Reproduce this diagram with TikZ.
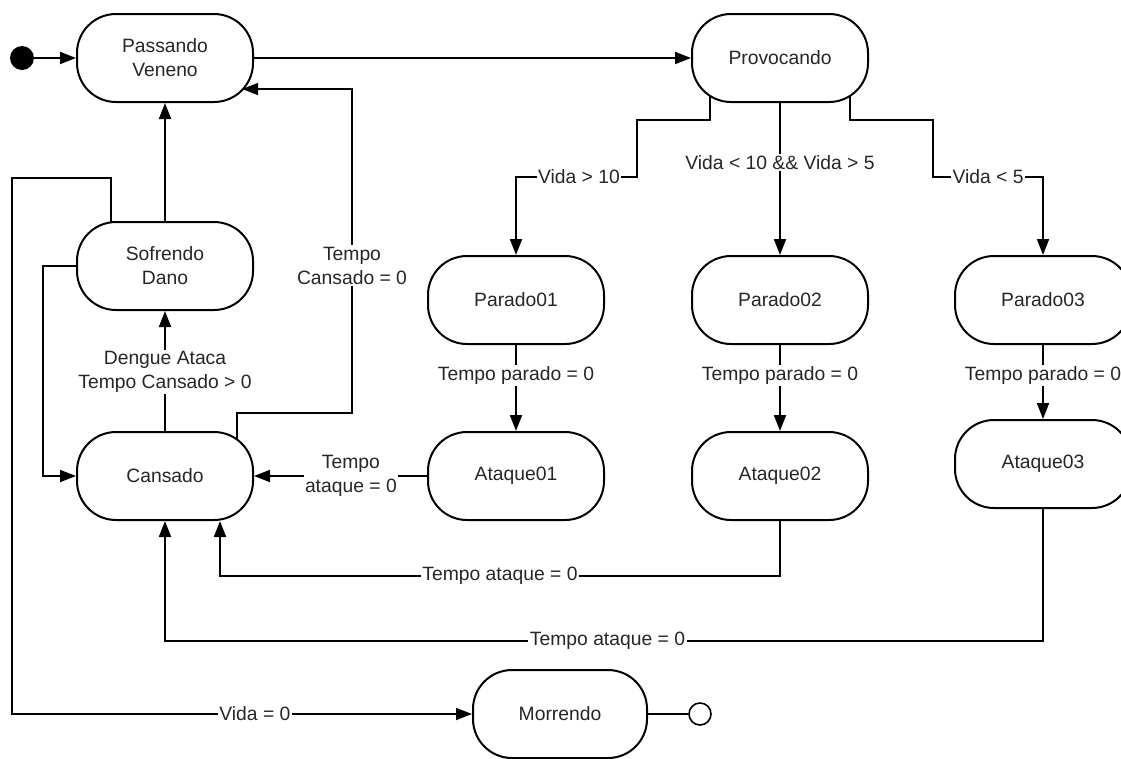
\documentclass[tikz,border=0pt]{standalone}
\usepackage{fontspec}
\setmainfont{Liberation Sans}
\usetikzlibrary{arrows.meta,backgrounds,calc}

\definecolor{ink}{gray}{0.15}

\tikzset{
  statebox/.style={draw, line width=2pt, fill=white, rounded corners=39pt,
    minimum width=176pt, minimum height=88pt, align=center, text=ink,
    font=\fontsize{19.3}{24}\selectfont},
  lbl/.style={fill=white, inner sep=1.5pt, align=center, text=ink,
    font=\fontsize{19.3}{24}\selectfont},
  conn/.style={line width=1.8pt, -{Triangle[length=16pt,width=12pt]}},
  plain/.style={line width=1.8pt},
}

\begin{document}
\begin{tikzpicture}[x=1pt,y=-1pt]
\useasboundingbox (0,0) rectangle (1121,758);
\clip (0,0) rectangle (1121,758);

% states
\node[circle, fill=black, minimum size=24pt, inner sep=0pt] (init) at (22,58) {};
\node[statebox] (pv)   at (165,58)  {Passando\\Veneno};
\node[statebox] (prov) at (780,58)  {Provocando};
\node[statebox] (sof)  at (165,266) {Sofrendo\\Dano};
\node[statebox] (cans) at (165,476) {Cansado};
\node[statebox] (p1)   at (516,300) {Parado01};
\node[statebox] (p2)   at (780,300) {Parado02};
\node[statebox] (p3)   at (1043,300) {Parado03};
\node[statebox] (a1)   at (516,476) {Ataque01};
\node[statebox] (a2)   at (780,476) {Ataque02};
\node[statebox] (a3)   at (1043,464) {Ataque03};
\node[statebox, minimum width=174pt] (mor) at (560,714) {Morrendo};
\node[circle, draw, line width=1.6pt, fill=white, minimum size=22pt, inner sep=0pt] (fin) at (700,714) {};

% transitions
\begin{pgfonlayer}{background}
\draw[conn] (init) -- (pv);
\draw[conn] (pv) -- (prov);
\draw[conn] (sof.north) -- (pv.south);
\draw[conn] (cans.north) -- node[lbl, pos=0.49]{Dengue Ataca\\Tempo Cansado > 0} (sof.south);
\draw[conn] (sof.west) -- ++(-33,0) |- (cans.west);
\draw[conn] ([xshift=72pt]cans.center) -- ++(0,-63) -- ++(115,0)
  -- node[lbl, pos=0.455]{Tempo\\Cansado = 0} ++(0,-324)
  -- ([shift={(77.2,31)}]pv.center);
\draw[conn] ([xshift=-54pt]sof.center) -- ++(0,-88) -- ++(-99,0)
  |- node[lbl, pos=0.764]{Vida = 0} (mor.west);
\draw[plain] (mor.east) -- (fin.west);

% branches out of Provocando
\draw[conn] ([xshift=-70pt]prov.center) -- ++(0,62) -- ++(-73,0) -- ++(0,57)
  -| node[lbl, pos=0.24]{Vida > 10} (p1.north);
\draw[conn] (prov.south) -- node[lbl, pos=0.39]{Vida < 10 \&\& Vida > 5} (p2.north);
\draw[conn] ([xshift=70pt]prov.center) -- ++(0,62) -- ++(83,0) -- ++(0,57)
  -| node[lbl, pos=0.25]{Vida < 5} (p3.north);

% waiting -> attacking
\draw[conn] (p1.south) -- node[lbl, pos=0.35]{Tempo parado = 0} (a1.north);
\draw[conn] (p2.south) -- node[lbl, pos=0.35]{Tempo parado = 0} (a2.north);
\draw[conn] (p3.south) -- node[lbl, pos=0.41]{Tempo parado = 0} (a3.north);

% attacking -> tired
\draw[conn] (a1.west) -- node[lbl, pos=0.44]{Tempo\\ataque = 0} (cans.east);
\draw[conn] (a2.south) -- ++(0,55)
  -| node[lbl, pos=0.25]{Tempo ataque = 0} ([xshift=55pt]cans.south);
\draw[conn] (a3.south) -- ++(0,132)
  -| node[lbl, pos=0.248]{Tempo ataque = 0} (cans.south);
\end{pgfonlayer}
\end{tikzpicture}
\end{document}
